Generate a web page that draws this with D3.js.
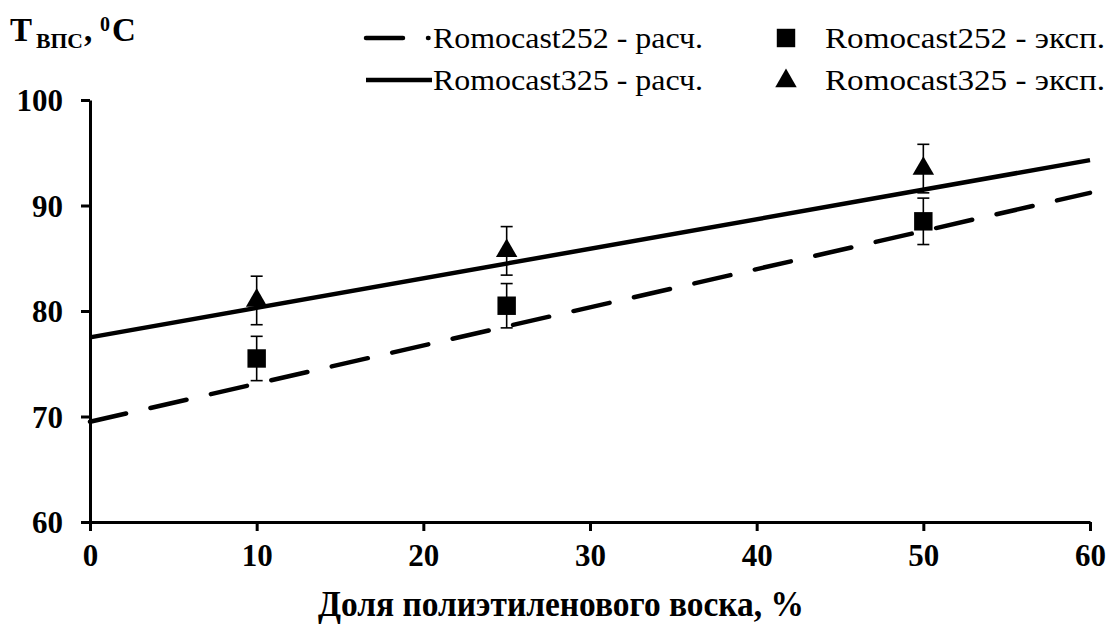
<!DOCTYPE html>
<html>
<head>
<meta charset="utf-8">
<script src="https://cdn.jsdelivr.net/npm/d3@7"></script>
<style>
  body { margin: 0; background: #fff; }
</style>
</head>
<body>
<svg id="chart" width="1113" height="626" font-family="Liberation Serif, DejaVu Serif, serif"></svg>
<script>
// data
const xTicks = [0, 10, 20, 30, 40, 50, 60];
const yTicks = [60, 70, 80, 90, 100];
const fitX = [0, 60];
const fit252 = [69.5, 91.2];   // расч., dashed
const fit325 = [77.5, 94.3];   // расч., solid
const expX = [10, 25, 50];
const exp252 = [75.5, 80.5, 88.5];
const err252 = [2.1, 2.1, 2.2];
const exp325 = [81.0, 85.7, 93.5];
const err325 = [2.3, 2.3, 2.3];
const legendNames = ["Romocast252 - расч.", "Romocast325 - расч.", "Romocast252 - эксп.", "Romocast325 - эксп."];

const serif = "Liberation Serif, DejaVu Serif, serif";

const svg = d3.select("#chart");
const margin = {top: 100, right: 23, bottom: 104, left: 90};
const width = 1113 - margin.left - margin.right;
const height = 626 - margin.top - margin.bottom;

const g = svg.append("g")
  .attr("transform", "translate(" + margin.left + "," + margin.top + ")");

const x = d3.scaleLinear().domain([0, 60]).range([0, width]);
const y = d3.scaleLinear().domain([60, 100]).range([height, 0]);

// axes
const xAxis = g.append("g")
  .attr("transform", "translate(0," + height + ")")
  .call(d3.axisBottom(x).tickValues(xTicks).tickSize(9).tickSizeOuter(0).tickPadding(13));
const yAxis = g.append("g")
  .call(d3.axisLeft(y).tickValues(yTicks).tickSize(9).tickSizeOuter(0).tickPadding(18));

[xAxis, yAxis].forEach(a => {
  a.attr("font-family", serif).attr("font-size", 31).attr("font-weight", "bold");
  a.select(".domain").attr("stroke", "#000").attr("stroke-width", 3);
  a.selectAll(".tick line").attr("stroke", "#000").attr("stroke-width", 3);
  a.selectAll(".tick text").attr("fill", "#000");
});
yAxis.selectAll(".tick text").attr("dy", "0.35em");

// fitted lines
const line = d3.line().x(d => x(d[0])).y(d => y(d[1]));
g.append("path")
  .datum(fitX.map((v, i) => [v, fit252[i]]))
  .attr("d", line)
  .attr("fill", "none").attr("stroke", "#000").attr("stroke-width", 4.5)
  .attr("stroke-linecap", "round")
  .attr("stroke-dasharray", "37,25");
g.append("path")
  .datum(fitX.map((v, i) => [v, fit325[i]]))
  .attr("d", line)
  .attr("fill", "none").attr("stroke", "#000").attr("stroke-width", 4.5);

// error bars
function errorBars(vals, errs) {
  const eg = g.append("g").attr("stroke", "#000").attr("stroke-width", 1.6);
  expX.forEach((xv, i) => {
    const cx = x(xv), top = y(vals[i] + errs[i]), bot = y(vals[i] - errs[i]);
    eg.append("line").attr("x1", cx).attr("x2", cx).attr("y1", top).attr("y2", bot);
    eg.append("line").attr("x1", cx - 6).attr("x2", cx + 6).attr("y1", top).attr("y2", top);
    eg.append("line").attr("x1", cx - 6).attr("x2", cx + 6).attr("y1", bot).attr("y2", bot);
  });
}
errorBars(exp252, err252);
errorBars(exp325, err325);

const sq = d3.symbol().type(d3.symbolSquare).size(340);
const tri = d3.symbol().type(d3.symbolTriangle).size(200);

g.selectAll(".sq").data(expX.map((v, i) => [v, exp252[i]])).enter()
  .append("path")
  .attr("d", sq)
  .attr("transform", d => "translate(" + x(d[0]) + "," + y(d[1]) + ")")
  .attr("fill", "#000");
g.selectAll(".tri").data(expX.map((v, i) => [v, exp325[i]])).enter()
  .append("path")
  .attr("d", tri)
  .attr("transform", d => "translate(" + x(d[0]) + "," + y(d[1]) + ")")
  .attr("fill", "#000");

// axis titles
svg.append("text")
  .attr("x", 318).attr("y", 616)
  .attr("font-family", serif).attr("font-weight", "bold").attr("font-size", 35)
  .attr("textLength", 486).attr("lengthAdjust", "spacingAndGlyphs")
  .text("Доля полиэтиленового воска, %");

const yt = svg.append("g").attr("font-family", serif).attr("font-weight", "bold");
yt.append("text").attr("x", 10).attr("y", 41).attr("font-size", 33).text("T");
yt.append("text").attr("x", 36).attr("y", 48).attr("font-size", 21)
  .attr("textLength", 47).attr("lengthAdjust", "spacingAndGlyphs").text("ВПС");
yt.append("text").attr("x", 84).attr("y", 41).attr("font-size", 33).text(",");
yt.append("text").attr("x", 100).attr("y", 31).attr("font-size", 20).text("0");
yt.append("text").attr("x", 112).attr("y", 41).attr("font-size", 33).text("C");

// legend
const lg = svg.append("g");
const rows = [38, 80];
lg.append("line").attr("x1", 366).attr("x2", 428.5).attr("y1", rows[0]).attr("y2", rows[0])
  .attr("stroke", "#000").attr("stroke-width", 4.5).attr("stroke-linecap", "round")
  .attr("stroke-dasharray", "37,25");
lg.append("line").attr("x1", 366).attr("x2", 432).attr("y1", rows[1]).attr("y2", rows[1])
  .attr("stroke", "#000").attr("stroke-width", 4.5);
lg.append("path").attr("d", sq).attr("transform", "translate(786," + rows[0] + ")").attr("fill", "#000");
lg.append("path").attr("d", tri).attr("transform", "translate(786," + (rows[1] + 1) + ")").attr("fill", "#000");
const legendPos = [[433, rows[0], 270], [433, rows[1], 270], [825, rows[0], 280], [825, rows[1], 280]];
legendPos.forEach((p, i) => {
  lg.append("text").attr("x", p[0]).attr("y", p[1] + 10)
    .attr("font-family", serif).attr("font-size", 29)
    .attr("textLength", p[2]).attr("lengthAdjust", "spacingAndGlyphs")
    .text(legendNames[i]);
});
</script>
</body>
</html>
